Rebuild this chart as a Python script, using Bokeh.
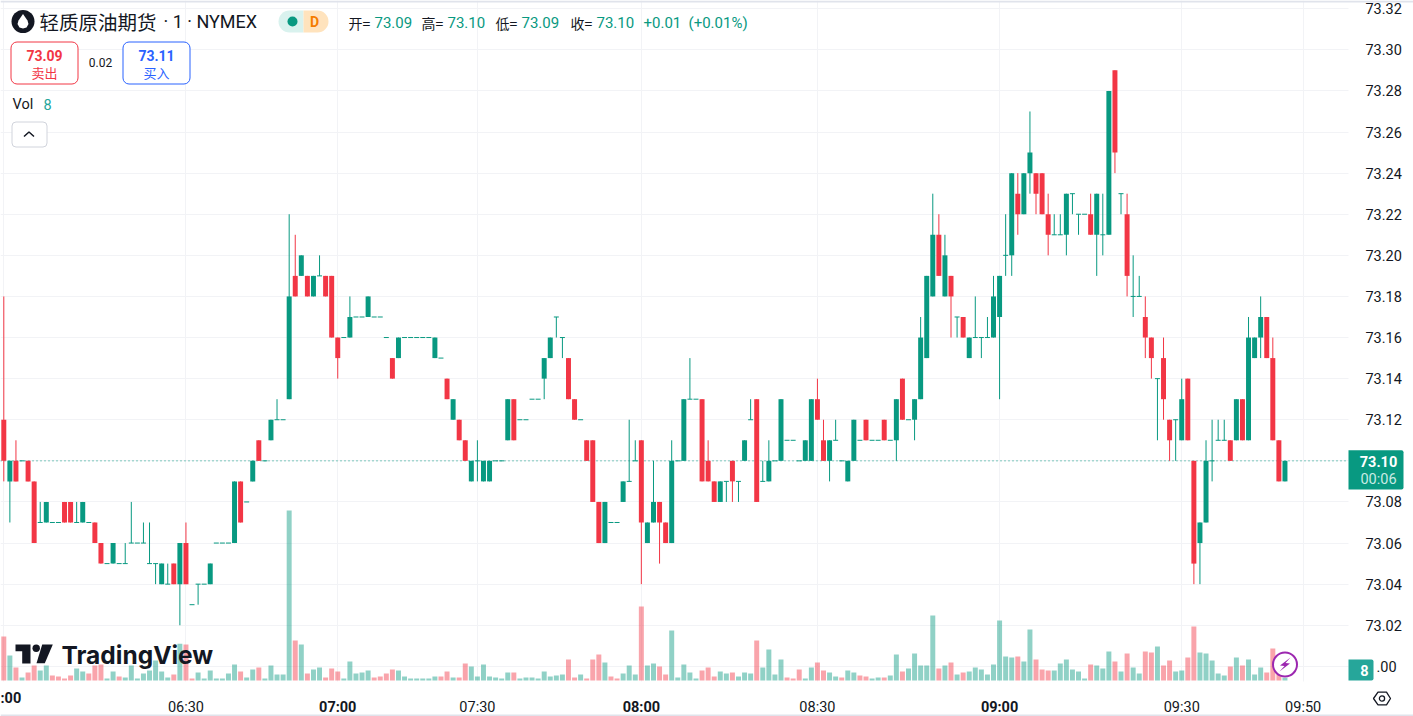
import numpy as np
from bokeh.core.properties import value
from bokeh.embed import file_html
from bokeh.models import FixedTicker, LinearAxis, NumeralTickFormatter, Range1d
from bokeh.plotting import figure
from bokeh.resources import INLINE

# prices in cents above 73.00, one entry per 1 minute bar
base_price = 73.0
opens = [
    12, 9, 10, 10, 10, 9, 7, 7, 7, 7, 8, 8, 7, 7, 7, 7, 6, 5, 5, 5,
    5, 6, 6, 6, 5, 5, 4, 4, 5, 4, 6, 3, 4, 4, 4, 6, 6, 6, 6, 9,
    8, 9, 11, 10, 11, 12, 12, 13, 19, 19, 19, 18, 19, 19, 19, 16, 16, 16, 17, 17,
    17, 17, 17, 16, 15, 15, 16, 16, 16, 16, 16, 15, 15, 14, 12, 12, 11, 9, 10, 9,
    9, 10, 10, 11, 13, 12, 12, 13, 13, 14, 15, 17, 16, 15, 13, 12, 11, 11, 8, 6,
    7, 7, 8, 9, 10, 11, 6, 7, 8, 7, 6, 10, 10, 13, 13, 13, 10, 9, 8, 9,
    10, 9, 10, 12, 13, 9, 9, 10, 10, 11, 11, 10, 10, 10, 13, 11, 10, 11, 10, 9,
    10, 11, 12, 11, 11, 12, 11, 11, 14, 12, 12, 13, 15, 18, 21, 18, 19, 17, 17, 15,
    16, 16, 16, 16, 17, 20, 20, 23, 22, 24, 24, 24, 22, 21, 21, 21, 23, 22, 22, 22,
    21, 21, 21, 29, 23, 22, 18, 18, 17, 16, 14, 15, 12, 12, 11, 14, 10, 6, 7, 10,
    11, 11, 11, 11, 13, 11, 15, 16, 17, 15, 11, 9,
]
closes = [
    10, 10, 9, 10, 9, 6, 7, 8, 7, 7, 7, 7, 7, 8, 7, 6, 5, 5, 6, 5,
    5, 6, 6, 6, 5, 5, 5, 4, 4, 6, 4, 3, 4, 4, 5, 6, 6, 6, 9, 7,
    8, 10, 10, 10, 12, 12, 12, 18, 18, 20, 18, 19, 19, 18, 16, 15, 16, 17, 17, 17,
    18, 17, 17, 16, 14, 16, 16, 16, 16, 16, 16, 16, 15, 13, 13, 11, 10, 10, 10, 10,
    10, 10, 10, 13, 11, 12, 12, 13, 13, 15, 16, 17, 16, 13, 12, 12, 10, 8, 6, 8,
    7, 7, 9, 9, 10, 7, 7, 8, 7, 6, 10, 10, 13, 13, 13, 9, 9, 8, 9, 9,
    9, 9, 11, 12, 8, 9, 10, 10, 13, 11, 11, 10, 11, 13, 12, 10, 11, 11, 10, 10,
    12, 11, 11, 11, 11, 11, 11, 13, 12, 12, 13, 16, 19, 21, 19, 20, 18, 17, 16, 16,
    16, 16, 16, 18, 19, 20, 24, 22, 24, 25, 23, 22, 21, 21, 21, 23, 23, 22, 22, 21,
    23, 21, 28, 25, 23, 19, 18, 18, 16, 15, 14, 13, 11, 12, 13, 11, 5, 7, 10, 10,
    11, 11, 10, 13, 11, 16, 16, 17, 15, 11, 9, 10,
]
highs = [
    18, 10, 11, 10, 10, 9, 8, 8, 7, 7, 8, 8, 8, 8, 7, 7, 6, 5, 6, 5,
    6, 8, 6, 7, 7, 5, 5, 5, 5, 6, 7, 3, 4, 4, 5, 6, 6, 6, 9, 9,
    8, 10, 11, 10, 12, 13, 12, 22, 21, 20, 19, 19, 20, 19, 19, 16, 16, 18, 17, 17,
    18, 17, 17, 16, 15, 16, 16, 16, 16, 16, 16, 16, 15, 14, 13, 12, 11, 10, 11, 10,
    10, 10, 10, 13, 13, 12, 12, 13, 13, 15, 16, 17, 16, 15, 13, 12, 11, 11, 8, 8,
    7, 7, 9, 12, 11, 11, 7, 10, 8, 7, 11, 10, 13, 15, 13, 13, 11, 9, 9, 9,
    10, 9, 11, 13, 13, 10, 11, 10, 13, 11, 11, 10, 11, 13, 14, 12, 11, 12, 10, 10,
    12, 11, 12, 11, 11, 12, 11, 13, 14, 12, 13, 17, 19, 23, 22, 21, 19, 17, 17, 16,
    18, 16, 17, 19, 19, 22, 24, 24, 24, 27, 24, 24, 23, 22, 22, 23, 23, 22, 22, 23,
    23, 23, 28, 29, 23, 23, 20, 19, 18, 16, 14, 16, 12, 12, 14, 14, 10, 7, 11, 12,
    12, 12, 11, 13, 13, 17, 16, 18, 17, 16, 11, 10,
]
lows = [
    9, 7, 9, 10, 9, 6, 7, 7, 7, 7, 7, 7, 7, 7, 7, 6, 5, 5, 5, 5,
    5, 6, 6, 6, 5, 4, 4, 4, 4, 2, 4, 3, 3, 4, 4, 6, 6, 6, 6, 7,
    8, 9, 10, 10, 11, 12, 12, 13, 18, 19, 18, 18, 19, 18, 16, 14, 16, 16, 17, 17,
    17, 17, 17, 16, 14, 15, 16, 16, 16, 16, 16, 15, 15, 13, 12, 11, 10, 9, 9, 9,
    9, 10, 10, 11, 11, 12, 12, 13, 13, 13, 15, 16, 15, 13, 12, 12, 10, 8, 6, 6,
    7, 7, 8, 9, 10, 4, 6, 7, 5, 6, 6, 10, 10, 13, 13, 9, 9, 8, 8, 8,
    8, 8, 10, 12, 8, 9, 9, 10, 10, 11, 11, 10, 10, 10, 12, 10, 9, 11, 10, 9,
    10, 11, 11, 11, 11, 11, 11, 10, 12, 12, 11, 13, 15, 18, 19, 18, 16, 16, 16, 15,
    16, 15, 16, 16, 13, 19, 19, 21, 22, 23, 22, 22, 20, 21, 21, 20, 22, 21, 22, 21,
    19, 20, 21, 24, 22, 18, 17, 18, 15, 14, 11, 12, 10, 10, 11, 11, 4, 4, 7, 9,
    11, 11, 10, 11, 11, 11, 15, 15, 15, 11, 9, 9,
]
volumes = [
    132, 75, 39, 9, 24, 45, 30, 45, 15, 12, 6, 15, 36, 27, 21, 45, 48, 6, 27, 12,
    9, 45, 6, 21, 30, 60, 27, 9, 18, 110, 108, 6, 24, 6, 30, 6, 6, 21, 48, 27,
    9, 33, 39, 6, 45, 18, 18, 510, 120, 108, 21, 33, 39, 9, 36, 27, 6, 57, 21, 24,
    30, 9, 12, 21, 33, 30, 12, 6, 6, 6, 6, 12, 12, 27, 9, 9, 51, 42, 12, 48,
    12, 9, 6, 24, 24, 6, 9, 9, 6, 27, 12, 15, 18, 63, 9, 18, 6, 63, 78, 54,
    12, 6, 21, 45, 18, 222, 45, 51, 42, 18, 150, 9, 48, 24, 6, 30, 39, 12, 27, 21,
    24, 12, 24, 21, 120, 39, 93, 18, 63, 9, 6, 33, 6, 39, 54, 30, 24, 12, 9, 30,
    24, 15, 12, 6, 9, 9, 15, 78, 27, 36, 81, 45, 45, 195, 36, 45, 54, 18, 24, 27,
    39, 33, 18, 48, 180, 72, 69, 72, 57, 153, 63, 33, 30, 30, 51, 63, 33, 27, 6, 48,
    45, 36, 87, 57, 27, 81, 39, 21, 87, 84, 102, 45, 60, 27, 30, 69, 162, 84, 81, 60,
    21, 15, 42, 69, 45, 63, 18, 39, 24, 96, 20, 8,
]
volume_sides = list(
    "RGRGRRGGRRRRGGRRRGGR" "GGGGGGGGRGRRGGGGGGGR" "GGRGGGGGRGRGGRRRGGGG"
    "GRRRRGGGGGGGRRGRRGGG" "GGGGRGGGGGGGGRRGRRRG" "RRGGGRGGRRGGGGGRRRGG"
    "RGGGRGGGGRRRGGRRGGRG" "GRRGGRGGRGGGGGRGRGRG" "GGGGGGGRGGRRRGGGGGGR"
    "GGGRGRGGRRGRRGGRRGGG" "GGRGRGGGRRRG"
)
price_ticks = [73.02, 73.04, 73.06, 73.08, 73.12, 73.14, 73.16, 73.18, 73.20,
               73.22, 73.24, 73.26, 73.28, 73.30, 73.32]
hour_ticks = {55: "07:00", 105: "08:00", 164: "09:00"}
other_ticks = {30: "06:30", 78: "07:30", 134: "08:30", 194: "09:30", 214: "09:50"}
first_tick = 0
last_price = 73.10

UP = "#089981"
DOWN = "#f23645"
INK = "#131722"
GRID = "#f2f3f6"
FONT = "Roboto"
CJK = "Noto Sans CJK SC"

# where the chart area ends, the scales sit beyond this, inside the plot frame
SCALE_X = 221.46
SCALE_Y = 72.9926

bars = np.arange(len(opens))
o = base_price + np.array(opens) / 100
c = base_price + np.array(closes) / 100
h = base_price + np.array(highs) / 100
l = base_price + np.array(lows) / 100

p = figure(width=1413, height=716, output_backend="svg", toolbar_location=None,
           x_range=Range1d(-0.543, 232.17), y_range=Range1d(72.9756, 73.324),
           y_axis_location="right", min_border=0)
p.outline_line_color = None
p.background_fill_color = "white"

# volume pane and a range in reference pixels for the overlay furniture
p.extra_y_ranges["vol"] = Range1d(-108, 2040)
p.extra_x_ranges["px"] = Range1d(0, 1413)
p.extra_y_ranges["px"] = Range1d(716, 0)


def style_axis(ax):
    ax.major_label_text_font = FONT
    ax.major_label_text_font_size = "14.5px"
    ax.major_label_text_color = INK
    ax.major_label_standoff = 11
    ax.axis_line_color = None
    ax.major_tick_line_color = None
    ax.minor_tick_line_color = None


xax = p.xaxis[0]
xax.ticker = FixedTicker(ticks=list(other_ticks))
xax.major_label_overrides = other_ticks
xax.fixed_location = SCALE_Y
style_axis(xax)

# the hour labels are bold, an axis only has one label style
bold_axis = LinearAxis(ticker=FixedTicker(ticks=list(hour_ticks)), major_label_overrides=hour_ticks,
                       fixed_location=SCALE_Y)
style_axis(bold_axis)
bold_axis.major_label_text_font_style = "bold"
p.add_layout(bold_axis, "below")

yax = p.yaxis[0]
yax.ticker = FixedTicker(ticks=price_ticks)
yax.formatter = NumeralTickFormatter(format="0.00")
yax.fixed_location = SCALE_X
style_axis(yax)

p.xgrid[0].ticker = FixedTicker(ticks=[first_tick] + list(hour_ticks) + list(other_ticks))
p.ygrid[0].ticker = FixedTicker(ticks=[73.00] + price_ticks + [last_price])
p.xgrid[0].grid_line_color = GRID
p.ygrid[0].grid_line_color = GRID


def txt(x, y, s, color=INK, size=14, style="normal", align="left", font=FONT):
    p.text(x=[x], y=[y], text=[s], text_color=color, text_font=value(font), text_font_size=f"{size}px",
           text_font_style=style, text_align=align, text_baseline="middle",
           x_range_name="px", y_range_name="px")


def box(left, right, top, bottom, fill, line=None, radius=0):
    p.quad(left=left, right=right, top=top, bottom=bottom, fill_color=fill, line_color=line,
           border_radius=radius, x_range_name="px", y_range_name="px")


def shape(xs, ys, fill):
    p.patch(xs, ys, fill_color=fill, line_color=None, x_range_name="px", y_range_name="px")


def dot(x, y, r, fill, line=None, width=1):
    p.circle(x=[x], y=[y], radius=r, radius_units="screen", fill_color=fill, line_color=line,
             line_width=width, x_range_name="px", y_range_name="px")


# keep the grid out of the scale areas
box(1348, 1413, 0, 716, "white")
box(0, 1348, 681, 716, "white")
box(0, 1413, 0, 2, "#e0e3eb")
box(0, 1413, 714, 716, "#e0e3eb")

# volume
vol_colors = [UP if s == "G" else DOWN for s in volume_sides]
p.vbar(x=bars, top=volumes, bottom=0, width=0.82, color=vol_colors, alpha=0.45, line_color=None,
       y_range_name="vol")

# last price line
p.line([-0.543, SCALE_X], [last_price, last_price], line_color=UP, line_width=1, line_dash=[1, 3])

# candles: wicks, then bodies, flat bars get a short tick
colors = np.where(c >= o, UP, DOWN)
p.segment(bars, h, bars, l, color=colors.tolist(), line_width=1)
moved = o != c
p.vbar(x=bars[moved], top=np.maximum(o, c)[moved], bottom=np.minimum(o, c)[moved], width=0.82,
       fill_color=colors[moved].tolist(), line_color=None)
flat = ~moved
p.segment(bars[flat] - 0.41, o[flat], bars[flat] + 0.41, o[flat], color=UP, line_width=1)

# title row
dot(22.5, 21, 11.5, INK)
shape([22.5, 18, 17, 19, 22.5, 26, 28, 27], [13.5, 20, 23.5, 27, 28, 27, 23.5, 20], "white")
txt(39, 21, "轻质原油期货", size=19.5, font=CJK)
txt(163, 21, "· 1 · NYMEX", size=18)
box(278, 303, 10, 32, "#d9f2ee", radius=(11, 0, 0, 11))
box(303, 328, 10, 32, "#ffe3bd", radius=(0, 11, 11, 0))
dot(292, 21, 5, UP)
txt(314, 21, "D", color="#f57c00", size=14, style="bold", align="center")

for x, s in [(348, "开="), (421, "高="), (495, "低="), (570, "收=")]:
    txt(x, 22, s, size=14, font=CJK)
for x, s in [(374, "73.09"), (447, "73.10"), (521, "73.09"), (596, "73.10"),
             (643, "+0.01"), (688, "(+0.01%)")]:
    txt(x, 22, s, color=UP, size=15)

# bid and ask
box(10.5, 77.5, 41.5, 83.5, "white", line=DOWN, radius=6)
txt(44, 55, "73.09", color=DOWN, style="bold", align="center")
txt(44, 72, "卖出", color=DOWN, size=13, align="center", font=CJK)
txt(100, 61.5, "0.02", size=12, align="center")
box(122.5, 189.5, 41.5, 83.5, "white", line="#2962ff", radius=6)
txt(156, 55, "73.11", color="#2962ff", style="bold", align="center")
txt(156, 72, "买入", color="#2962ff", size=13, align="center", font=CJK)

# volume legend and collapse button
txt(12, 104, "Vol", size=14.5)
txt(43, 104, "8", color="#26a69a", size=14.5)
box(11.5, 46.5, 121.5, 146.5, "white", line="#d1d4dc", radius=4)
p.line([23.5, 28.5, 33.5], [136, 131.5, 136], line_color=INK, line_width=1.5,
       x_range_name="px", y_range_name="px")

# TradingView mark
shape([15, 30, 30, 21.7, 21.7, 15], [644, 644, 663, 663, 650.7, 650.7], INK)
dot(35.7, 647.7, 3.7, INK)
shape([41.7, 52.3, 44.3, 36], [644, 644, 662.7, 662.7], INK)
txt(61, 654, "TradingView", size=24.5, style="bold", font="Inter")

# lightning badge
dot(1284.5, 664, 12, "white", line="#9c27b0", width=2)
shape([1290, 1279.5, 1284, 1279, 1289.5, 1285], [657, 665, 665.5, 671, 663, 662.5], "#9c27b0")

# first time label runs off the page edge, 73.00 sits half under the volume tag
txt(0, 698, ":00", size=14.5, style="bold")
txt(1376, 665.8, ".00", size=14.5)

# price tags on the scale
box(1348, 1403, 449.7, 489, UP, radius=(0, 2, 2, 0))
txt(1378, 461, "73.10", color="white", size=14.5, style="bold", align="center")
txt(1378, 478.5, "00:06", color="#c8ebe5", size=14.5, align="center")
box(1348, 1373, 659, 680, "#26a69a", radius=(0, 2, 2, 0))
txt(1364, 670, "8", color="white", size=14.5, style="bold", align="center")

# settings hexagon
p.patch([1373, 1377.5, 1386, 1390, 1386, 1377.5], [698, 691.7, 691.7, 698, 704.3, 704.3],
        fill_color=None, line_color=INK, line_width=1.3, x_range_name="px", y_range_name="px")
dot(1381.5, 698, 2.6, None, line=INK, width=1.3)

open("out.html", "w").write(file_html(p, INLINE))
